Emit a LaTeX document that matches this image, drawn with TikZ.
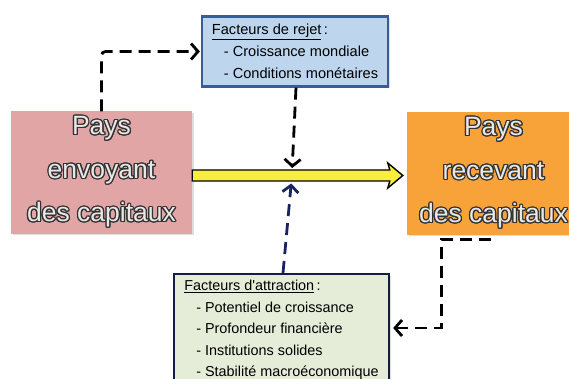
\documentclass[tikz,border=0pt]{standalone}
\usepackage{fontspec}
\usepackage[copies]{contour}
\usetikzlibrary{arrows.meta,calc,shadows}
\newfontfamily\arialfont{Liberation Sans}
\definecolor{pinkfill}{RGB}{225,165,165}
\definecolor{orangefill}{RGB}{248,163,58}
\definecolor{bluefill}{RGB}{189,214,238}
\definecolor{blueline}{RGB}{52,94,148}
\definecolor{greenfill}{RGB}{229,236,215}
\definecolor{greenline}{RGB}{22,28,72}
\definecolor{arrowyellow}{RGB}{248,238,60}
\definecolor{navydash}{RGB}{25,35,95}
\definecolor{txtfill}{RGB}{232,232,232}
\definecolor{txtline}{RGB}{50,50,50}
\contourlength{1.2pt}
\newcommand{\bigword}[1]{{\color{txtfill}\contour{txtline}{#1}}}
\newcommand{\factoritem}[1]{\hspace*{12pt}- #1}

\begin{document}
\begin{tikzpicture}[x=1pt,y=-1pt]
    \useasboundingbox (0,0) rectangle (569,379);
    \tikzset{
        country/.style={minimum height=122pt, inner sep=0pt, align=center,
            font=\arialfont\fontsize{26.5}{43.5}\selectfont,
            drop shadow={shadow xshift=1.5pt, shadow yshift=-1.5pt, opacity=0.25}},
        factor/.style={draw, line width=2.2pt, align=left, inner sep=0pt,
            font=\arialfont\fontsize{14.6}{22}\selectfont,
            drop shadow={shadow xshift=1.5pt, shadow yshift=-1.5pt, opacity=0.25}},
        dashlink/.style={line width=2.8pt, dash pattern=on 12pt off 7pt,
            -{Straight Barb[length=7pt, width=16pt]}}
    }
    \node[country, fill=pinkfill, minimum width=181pt] (sender) at (101.5,172.5)
        {\bigword{Pays}\\\bigword{envoyant}\\\bigword{des capitaux}};
    \node[country, fill=orangefill, minimum width=173pt] (receiver) at (493.5,173.5)
        {\bigword{Pays}\\\bigword{recevant}\\\bigword{des capitaux}};

    \node[factor, draw=blueline, fill=bluefill, minimum width=186pt, minimum height=70pt] (push) at (295,51.5)
        {\underline{Facteurs de rejet}\,:\\\factoritem{Croissance mondiale}\\\factoritem{Conditions mon\'etaires}};
    \node[factor, draw=greenline, fill=greenfill, minimum width=215pt, minimum height=112pt,
        font=\arialfont\fontsize{14.4}{21.5}\selectfont] (pull) at (281.5,330)
        {\underline{Facteurs d'attraction}\,:\\\factoritem{Potentiel de croissance}\\\factoritem{Profondeur financi\`ere}\\\factoritem{Institutions solides}\\\factoritem{Stabilit\'e macro\'economique}};

    % capital flow
    \coordinate (tail) at ($(sender.east)+(0,3)$);
    \coordinate (head) at ($(receiver.west)+(-4,2)$);
    \coordinate (meet) at ($(tail)+(100,0)$);
    \filldraw[fill=arrowyellow, draw=black, line width=1.4pt, line join=miter]
        ($(tail)+(0,-5.5)$) -- ($(head)+(-13,-5.5)$) -- ($(head)+(-15,-12.5)$) -- (head)
        -- ($(head)+(-15,12.5)$) -- ($(head)+(-13,5.5)$) -- ($(tail)+(0,5.5)$) -- cycle;

    % push and pull links
    \draw[dashlink, rounded corners=4pt] (sender.north) |- ([xshift=-1pt]push.west);
    \draw[dashlink] ([xshift=1pt]push.south) -- ($(meet)+(0,-7.5)$);
    \draw[dashlink, navydash] ([xshift=1.5pt]pull.north) -- ($(meet)+(-1,8)$);
    \coordinate (drop) at ($(receiver.south)+(-3,4.5)$);
    \coordinate (elbow) at ($(pull.east)+(51,-2)$);
    \draw[dashlink] (drop) -| (elbow) -- ($(pull.east)+(3,-2)$);
\end{tikzpicture}
\end{document}
